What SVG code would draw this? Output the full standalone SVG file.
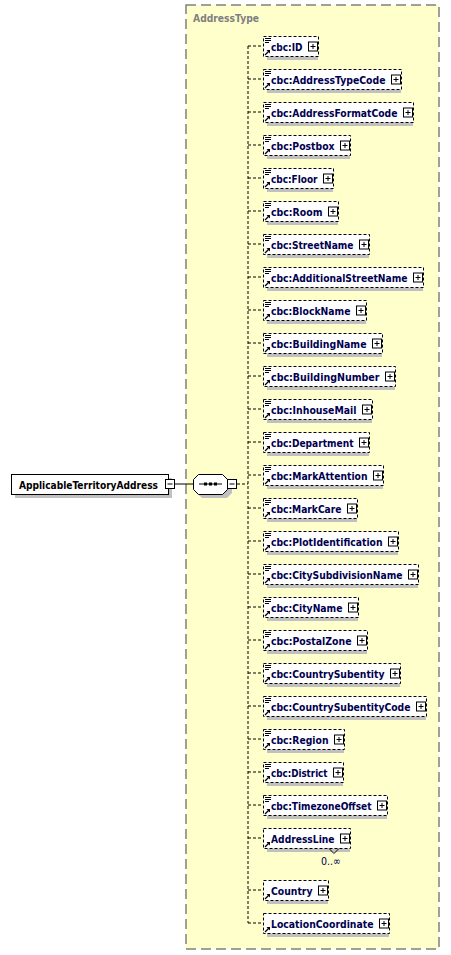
<svg xmlns="http://www.w3.org/2000/svg" width="451" height="955" viewBox="0 0 451 955">
<style>
.bg{fill:#FFFFCC;stroke:#808080;stroke-width:1.5;stroke-dasharray:10,5}
.ttl{font-family:"DejaVu Sans Condensed","DejaVu Sans","Liberation Sans",sans-serif;font-weight:bold;font-size:11px;fill:#808080}
.box{fill:#fff;stroke:#000;stroke-width:1;stroke-dasharray:3,2}
.rbox{fill:#fff;stroke:#000;stroke-width:1}
.sh{fill:#C0C0C0}
.lbl{font-family:"DejaVu Sans Condensed","DejaVu Sans","Liberation Sans",sans-serif;font-weight:bold;font-size:11px;fill:#000050}
.pm{fill:#fff;stroke:#000;stroke-width:1}
.pl{stroke:#000;stroke-width:1;fill:none}
.con{stroke:#000;stroke-width:1;fill:none;stroke-dasharray:3,2}
.sol{stroke:#000;stroke-width:1;fill:none}
.occ{font-family:"DejaVu Sans Condensed","DejaVu Sans","Liberation Sans",sans-serif;font-size:11px;fill:#000050}
</style>
<defs>
<g id="plus"><rect class="pm" x="-4.5" y="-4.5" width="9" height="9"/><path class="pl" d="M-2.5,0H2.5M0,-2.5V2.5"/></g>
<g id="doc"><path class="pl" d="M0,0.5H6M0,2.5H6M0,4.5H4"/></g>
<g id="ref"><path d="M0,5L4,1" stroke="#000" stroke-width="1.2"/><path d="M1.5,0H5V3.5Z" fill="#000"/></g>
</defs>
<rect class="bg" x="186" y="5" width="253" height="944"/>
<text class="ttl" x="193" y="22" textLength="66" lengthAdjust="spacingAndGlyphs">AddressType</text>
<g id="connectors">
<path class="sol" d="M175,484H193"/>
<path class="con" d="M237,484H248"/>
<path class="con" d="M248,46V923"/>
<path class="con" d="M248,46H263M248,79H263M248,112H263M248,145H263M248,178H263M248,211H263M248,244H263M248,277H263M248,310H263M248,343H263M248,376H263M248,409H263M248,442H263M248,475H263M248,508H263M248,541H263M248,574H263M248,607H263M248,640H263M248,673H263M248,706H263M248,739H263M248,772H263M248,805H263M248,838H263M248,890H263M248,923H263"/>
</g>
<g id="root">
<rect class="sh" x="15" y="478" width="157" height="20"/>
<rect class="rbox" x="11.5" y="474.5" width="157" height="20"/>
<text class="lbl" x="19" y="488.5" style="fill:#000" textLength="139" lengthAdjust="spacingAndGlyphs">ApplicableTerritoryAddress</text>
<rect class="pm" x="165.5" y="479.5" width="9" height="9"/>
<path class="pl" d="M167.5,484H172.5"/>
</g>
<g id="sequence">
<path class="sh" d="M202,478H227L232,483V493L227,498H202L197,493V483Z"/>
<path d="M198.5,474.5H222.5L227.5,479.5V489.5L222.5,494.5H198.5L193.5,489.5V479.5Z" fill="#fff" stroke="#000"/>
<path class="sol" d="M199,484H222"/>
<rect x="204" y="482.5" width="3" height="3" fill="#000"/><rect x="209" y="482.5" width="3" height="3" fill="#000"/><rect x="214" y="482.5" width="3" height="3" fill="#000"/>
<rect class="pm" x="227.5" y="479.5" width="9" height="9"/>
<path class="pl" d="M229.5,484H234.5"/>
</g>
<g id="n1"><rect class="sh" x="267" y="40" width="51" height="20"/><rect class="box" x="263.5" y="36.5" width="55" height="20"/><use href="#doc" x="265" y="38"/><use href="#ref" x="265" y="50"/><text class="lbl" x="271" y="50.5" textLength="31.5" lengthAdjust="spacingAndGlyphs">cbc:ID</text><use href="#plus" x="313" y="46.5"/></g>
<g id="n2"><rect class="sh" x="267" y="73" width="134" height="20"/><rect class="box" x="263.5" y="69.5" width="138" height="20"/><use href="#doc" x="265" y="71"/><use href="#ref" x="265" y="83"/><text class="lbl" x="271" y="83.5" textLength="114.5" lengthAdjust="spacingAndGlyphs">cbc:AddressTypeCode</text><use href="#plus" x="396" y="79.5"/></g>
<g id="n3"><rect class="sh" x="267" y="106" width="146" height="20"/><rect class="box" x="263.5" y="102.5" width="150" height="20"/><use href="#doc" x="265" y="104"/><use href="#ref" x="265" y="116"/><text class="lbl" x="271" y="116.5" textLength="126.5" lengthAdjust="spacingAndGlyphs">cbc:AddressFormatCode</text><use href="#plus" x="408" y="112.5"/></g>
<g id="n4"><rect class="sh" x="267" y="139" width="83" height="20"/><rect class="box" x="263.5" y="135.5" width="87" height="20"/><use href="#doc" x="265" y="137"/><use href="#ref" x="265" y="149"/><text class="lbl" x="271" y="149.5" textLength="63.5" lengthAdjust="spacingAndGlyphs">cbc:Postbox</text><use href="#plus" x="345" y="145.5"/></g>
<g id="n5"><rect class="sh" x="267" y="172" width="66" height="20"/><rect class="box" x="263.5" y="168.5" width="70" height="20"/><use href="#doc" x="265" y="170"/><use href="#ref" x="265" y="182"/><text class="lbl" x="271" y="182.5" textLength="46.5" lengthAdjust="spacingAndGlyphs">cbc:Floor</text><use href="#plus" x="328" y="178.5"/></g>
<g id="n6"><rect class="sh" x="267" y="205" width="71" height="20"/><rect class="box" x="263.5" y="201.5" width="75" height="20"/><use href="#doc" x="265" y="203"/><use href="#ref" x="265" y="215"/><text class="lbl" x="271" y="215.5" textLength="51.5" lengthAdjust="spacingAndGlyphs">cbc:Room</text><use href="#plus" x="333" y="211.5"/></g>
<g id="n7"><rect class="sh" x="267" y="238" width="102" height="20"/><rect class="box" x="263.5" y="234.5" width="106" height="20"/><use href="#doc" x="265" y="236"/><use href="#ref" x="265" y="248"/><text class="lbl" x="271" y="248.5" textLength="82.5" lengthAdjust="spacingAndGlyphs">cbc:StreetName</text><use href="#plus" x="364" y="244.5"/></g>
<g id="n8"><rect class="sh" x="267" y="271" width="156" height="20"/><rect class="box" x="263.5" y="267.5" width="160" height="20"/><use href="#doc" x="265" y="269"/><use href="#ref" x="265" y="281"/><text class="lbl" x="271" y="281.5" textLength="136.5" lengthAdjust="spacingAndGlyphs">cbc:AdditionalStreetName</text><use href="#plus" x="418" y="277.5"/></g>
<g id="n9"><rect class="sh" x="267" y="304" width="99" height="20"/><rect class="box" x="263.5" y="300.5" width="103" height="20"/><use href="#doc" x="265" y="302"/><use href="#ref" x="265" y="314"/><text class="lbl" x="271" y="314.5" textLength="79.5" lengthAdjust="spacingAndGlyphs">cbc:BlockName</text><use href="#plus" x="361" y="310.5"/></g>
<g id="n10"><rect class="sh" x="267" y="337" width="115" height="20"/><rect class="box" x="263.5" y="333.5" width="119" height="20"/><use href="#doc" x="265" y="335"/><use href="#ref" x="265" y="347"/><text class="lbl" x="271" y="347.5" textLength="95.5" lengthAdjust="spacingAndGlyphs">cbc:BuildingName</text><use href="#plus" x="377" y="343.5"/></g>
<g id="n11"><rect class="sh" x="267" y="370" width="128" height="20"/><rect class="box" x="263.5" y="366.5" width="132" height="20"/><use href="#doc" x="265" y="368"/><use href="#ref" x="265" y="380"/><text class="lbl" x="271" y="380.5" textLength="108.5" lengthAdjust="spacingAndGlyphs">cbc:BuildingNumber</text><use href="#plus" x="390" y="376.5"/></g>
<g id="n12"><rect class="sh" x="267" y="403" width="105" height="20"/><rect class="box" x="263.5" y="399.5" width="109" height="20"/><use href="#doc" x="265" y="401"/><use href="#ref" x="265" y="413"/><text class="lbl" x="271" y="413.5" textLength="85.5" lengthAdjust="spacingAndGlyphs">cbc:InhouseMail</text><use href="#plus" x="367" y="409.5"/></g>
<g id="n13"><rect class="sh" x="267" y="436" width="102" height="20"/><rect class="box" x="263.5" y="432.5" width="106" height="20"/><use href="#doc" x="265" y="434"/><use href="#ref" x="265" y="446"/><text class="lbl" x="271" y="446.5" textLength="82.5" lengthAdjust="spacingAndGlyphs">cbc:Department</text><use href="#plus" x="364" y="442.5"/></g>
<g id="n14"><rect class="sh" x="267" y="469" width="116" height="20"/><rect class="box" x="263.5" y="465.5" width="120" height="20"/><use href="#doc" x="265" y="467"/><use href="#ref" x="265" y="479"/><text class="lbl" x="271" y="479.5" textLength="96.5" lengthAdjust="spacingAndGlyphs">cbc:MarkAttention</text><use href="#plus" x="378" y="475.5"/></g>
<g id="n15"><rect class="sh" x="267" y="502" width="90" height="20"/><rect class="box" x="263.5" y="498.5" width="94" height="20"/><use href="#doc" x="265" y="500"/><use href="#ref" x="265" y="512"/><text class="lbl" x="271" y="512.5" textLength="70.5" lengthAdjust="spacingAndGlyphs">cbc:MarkCare</text><use href="#plus" x="352" y="508.5"/></g>
<g id="n16"><rect class="sh" x="267" y="535" width="131" height="20"/><rect class="box" x="263.5" y="531.5" width="135" height="20"/><use href="#doc" x="265" y="533"/><use href="#ref" x="265" y="545"/><text class="lbl" x="271" y="545.5" textLength="111.5" lengthAdjust="spacingAndGlyphs">cbc:PlotIdentification</text><use href="#plus" x="393" y="541.5"/></g>
<g id="n17"><rect class="sh" x="267" y="568" width="151" height="20"/><rect class="box" x="263.5" y="564.5" width="155" height="20"/><use href="#doc" x="265" y="566"/><use href="#ref" x="265" y="578"/><text class="lbl" x="271" y="578.5" textLength="131.5" lengthAdjust="spacingAndGlyphs">cbc:CitySubdivisionName</text><use href="#plus" x="413" y="574.5"/></g>
<g id="n18"><rect class="sh" x="267" y="601" width="91" height="20"/><rect class="box" x="263.5" y="597.5" width="95" height="20"/><use href="#doc" x="265" y="599"/><use href="#ref" x="265" y="611"/><text class="lbl" x="271" y="611.5" textLength="71.5" lengthAdjust="spacingAndGlyphs">cbc:CityName</text><use href="#plus" x="353" y="607.5"/></g>
<g id="n19"><rect class="sh" x="267" y="634" width="100" height="20"/><rect class="box" x="263.5" y="630.5" width="104" height="20"/><use href="#doc" x="265" y="632"/><use href="#ref" x="265" y="644"/><text class="lbl" x="271" y="644.5" textLength="80.5" lengthAdjust="spacingAndGlyphs">cbc:PostalZone</text><use href="#plus" x="362" y="640.5"/></g>
<g id="n20"><rect class="sh" x="267" y="667" width="133" height="20"/><rect class="box" x="263.5" y="663.5" width="137" height="20"/><use href="#doc" x="265" y="665"/><use href="#ref" x="265" y="677"/><text class="lbl" x="271" y="677.5" textLength="113.5" lengthAdjust="spacingAndGlyphs">cbc:CountrySubentity</text><use href="#plus" x="395" y="673.5"/></g>
<g id="n21"><rect class="sh" x="267" y="700" width="159" height="20"/><rect class="box" x="263.5" y="696.5" width="163" height="20"/><use href="#doc" x="265" y="698"/><use href="#ref" x="265" y="710"/><text class="lbl" x="271" y="710.5" textLength="139.5" lengthAdjust="spacingAndGlyphs">cbc:CountrySubentityCode</text><use href="#plus" x="421" y="706.5"/></g>
<g id="n22"><rect class="sh" x="267" y="733" width="77" height="20"/><rect class="box" x="263.5" y="729.5" width="81" height="20"/><use href="#doc" x="265" y="731"/><use href="#ref" x="265" y="743"/><text class="lbl" x="271" y="743.5" textLength="57.5" lengthAdjust="spacingAndGlyphs">cbc:Region</text><use href="#plus" x="339" y="739.5"/></g>
<g id="n23"><rect class="sh" x="267" y="766" width="76" height="20"/><rect class="box" x="263.5" y="762.5" width="80" height="20"/><use href="#doc" x="265" y="764"/><use href="#ref" x="265" y="776"/><text class="lbl" x="271" y="776.5" textLength="56.5" lengthAdjust="spacingAndGlyphs">cbc:District</text><use href="#plus" x="338" y="772.5"/></g>
<g id="n24"><rect class="sh" x="267" y="799" width="120" height="20"/><rect class="box" x="263.5" y="795.5" width="124" height="20"/><use href="#doc" x="265" y="797"/><use href="#ref" x="265" y="809"/><text class="lbl" x="271" y="809.5" textLength="100.5" lengthAdjust="spacingAndGlyphs">cbc:TimezoneOffset</text><use href="#plus" x="382" y="805.5"/></g>
<g id="n25"><rect class="sh" x="267" y="832" width="83" height="20"/><rect class="box" x="263.5" y="828.5" width="87" height="20"/><use href="#ref" x="265" y="842"/><text class="lbl" x="271" y="842.5" textLength="63.5" lengthAdjust="spacingAndGlyphs">AddressLine</text><use href="#plus" x="345" y="838.5"/><path class="sol" d="M329,848.5L334,853.5L339,848.5"/><text class="occ" x="321" y="865" textLength="20" lengthAdjust="spacingAndGlyphs">0..∞</text></g>
<g id="n26"><rect class="sh" x="267" y="884" width="61" height="20"/><rect class="box" x="263.5" y="880.5" width="65" height="20"/><use href="#ref" x="265" y="894"/><text class="lbl" x="271" y="894.5" textLength="41.5" lengthAdjust="spacingAndGlyphs">Country</text><use href="#plus" x="323" y="890.5"/></g>
<g id="n27"><rect class="sh" x="267" y="917" width="122" height="20"/><rect class="box" x="263.5" y="913.5" width="126" height="20"/><use href="#ref" x="265" y="927"/><text class="lbl" x="271" y="927.5" textLength="102.5" lengthAdjust="spacingAndGlyphs">LocationCoordinate</text><use href="#plus" x="384" y="923.5"/></g>
</svg>
